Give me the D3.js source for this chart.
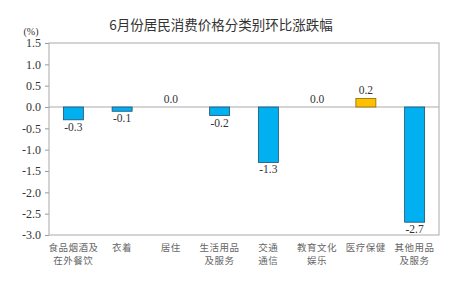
<!DOCTYPE html>
<html>
<head>
<meta charset="utf-8">
<script src="https://cdn.jsdelivr.net/npm/d3@7"></script>
<style>
  body { margin: 0; background: #fff; }
</style>
</head>
<body>
<div id="chart"></div>
<script>
var categories = [["食品烟酒及", "在外餐饮"], ["衣着"], ["居住"], ["生活用品", "及服务"], ["交通", "通信"], ["教育文化", "娱乐"], ["医疗保健"], ["其他用品", "及服务"]];
var values = [-0.3, -0.1, 0.0, -0.2, -1.3, 0.0, 0.2, -2.7];
var yTicks = [1.5, 1.0, 0.5, 0.0, -0.5, -1.0, -1.5, -2.0, -2.5, -3.0];

var W = 470, H = 292;
var margin = {top: 43, right: 31, bottom: 57, left: 49},
    width = W - margin.left - margin.right,
    height = H - margin.top - margin.bottom;

var serif = "'Liberation Serif', 'DejaVu Serif', serif";
// plain hyphen instead of unicode minus
var fmt = function(d) { return d.toFixed(1); };

var svg = d3.select("#chart").append("svg")
    .attr("width", W)
    .attr("height", H);

svg.append("text")
    .attr("x", 221).attr("y", 30)
    .attr("text-anchor", "middle")
    .style("font-family", "'Noto Sans CJK SC', sans-serif")
    .style("font-size", "13.5px")
    .attr("fill", "#333")
    .text("6月份居民消费价格分类别环比涨跌幅");

svg.append("text")
    .attr("x", 31).attr("y", 35)
    .attr("text-anchor", "middle")
    .style("font-family", serif)
    .style("font-size", "10px")
    .attr("fill", "#333")
    .text("(%)");

var g = svg.append("g")
    .attr("transform", "translate(" + margin.left + "," + margin.top + ")");

var x = d3.scaleBand()
    .domain(d3.range(categories.length))
    .range([0, width]);

var y = d3.scaleLinear()
    .domain([-3.0, 1.5])
    .range([height, 0]);

// y axis
var yAxis = g.append("g")
    .call(d3.axisLeft(y).tickValues(yTicks).tickFormat(fmt).tickSize(4).tickPadding(4));
yAxis.select(".domain").remove();
yAxis.selectAll("line").attr("stroke", "#999");
yAxis.selectAll(".tick text")
    .style("font-family", serif)
    .style("font-size", "12px")
    .attr("fill", "#333");

// frame
g.append("rect")
    .attr("x", 0).attr("y", 0)
    .attr("width", width).attr("height", height)
    .attr("fill", "none")
    .attr("stroke", "#aaa")
    .attr("stroke-width", 1);

// zero line
g.append("line")
    .attr("x1", 0).attr("x2", width)
    .attr("y1", y(0)).attr("y2", y(0))
    .attr("stroke", "#aaa");

var barW = 20;
g.selectAll(".bar").data(values).enter().append("rect")
    .attr("class", "bar")
    .attr("x", function(d, i) { return x(i) + x.bandwidth() / 2 - barW / 2; })
    .attr("y", function(d) { return y(Math.max(0, d)); })
    .attr("width", barW)
    .attr("height", function(d) { return Math.abs(y(d) - y(0)); })
    .attr("fill", function(d) { return d > 0 ? "#FFC000" : "#00B0F0"; })
    .attr("stroke", function(d) { return d > 0 ? "#8a6d00" : "#1f4e6e"; })
    .attr("stroke-width", 0.8)
    .style("display", function(d) { return d == 0 ? "none" : null; });

g.selectAll(".val").data(values).enter().append("text")
    .attr("class", "val")
    .attr("x", function(d, i) { return x(i) + x.bandwidth() / 2; })
    .attr("y", function(d) { return d < 0 ? y(d) + 11 : y(d) - 4; })
    .attr("text-anchor", "middle")
    .style("font-family", serif)
    .style("font-size", "11.5px")
    .attr("fill", "#333")
    .text(function(d) { return fmt(d); });

// category labels
var labels = g.selectAll(".cat").data(categories).enter().append("text")
    .attr("class", "cat")
    .attr("x", function(d, i) { return x(i) + x.bandwidth() / 2; })
    .attr("y", height + 16)
    .attr("text-anchor", "middle")
    .style("font-family", "'Noto Sans CJK SC', sans-serif")
    .style("font-size", "9.5px")
    .attr("letter-spacing", "0.5px")
    .attr("fill", "#666");
labels.selectAll("tspan").data(function(d) { return d; }).enter().append("tspan")
    .attr("x", function() { return d3.select(this.parentNode).attr("x"); })
    .attr("dy", function(d, i) { return i == 0 ? 0 : 13; })
    .text(function(d) { return d; });
</script>
</body>
</html>
